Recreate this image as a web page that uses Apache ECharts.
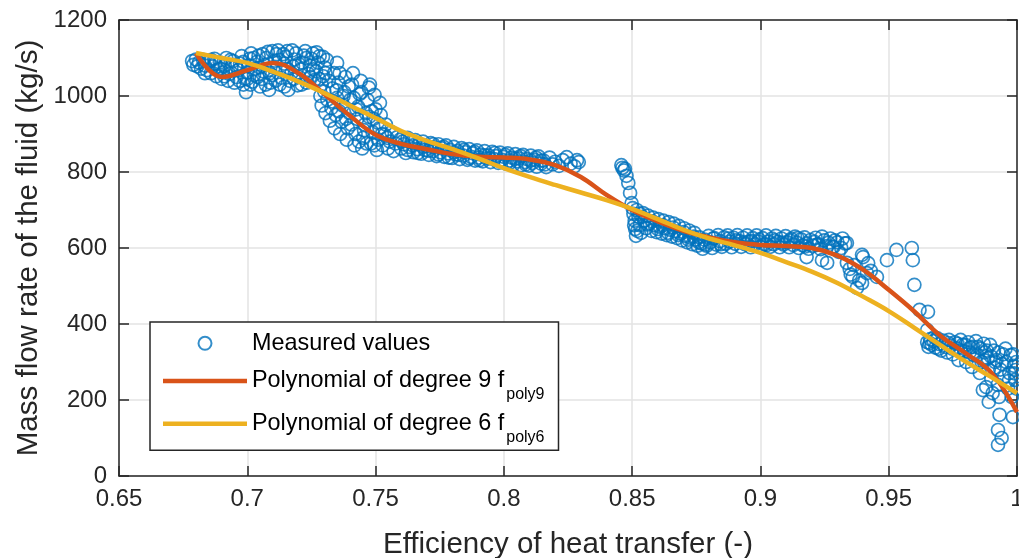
<!DOCTYPE html>
<html><head><meta charset="utf-8">
<script src="https://cdn.jsdelivr.net/npm/echarts@6/dist/echarts.min.js"></script>
<style>html,body{margin:0;padding:0;background:#fff}#c{width:1019px;height:558px}</style>
</head><body><div id="c"></div>
<script>
const FONT = "'Liberation Sans', Arial, Helvetica, sans-serif";
const xTickLabels = ['0.65','0.7','0.75','0.8','0.85','0.9','0.95','1'];
const yTickLabels = ['0','200','400','600','800','1000','1200'];
const seriesNames = ['Measured values','Polynomial of degree 9 f','Polynomial of degree 6 f'];
const subscripts = ['','poly9','poly6'];

const measured = [
// cluster near 0.68-0.73
[0.6785,1092],[0.6790,1082],[0.6800,1096],[0.6805,1078],[0.6812,1088],[0.6820,1072],[0.6828,1095],[0.6835,1080],[0.6842,1068],[0.6850,1090],
[0.6858,1060],[0.6865,1078],[0.6872,1098],[0.6880,1052],[0.6885,1070],[0.6893,1088],[0.6900,1045],[0.6905,1062],[0.6912,1080],[0.6918,1100],
[0.6925,1040],[0.6930,1058],[0.6938,1075],[0.6945,1092],[0.6950,1035],[0.6958,1050],[0.6965,1068],[0.6972,1085],[0.6978,1105],[0.6985,1030],
[0.6990,1046],[0.6995,1010],[0.7000,1062],[0.7005,1080],[0.7010,1098],[0.7015,1112],[0.7020,1038],[0.7026,1055],[0.7032,1072],[0.7038,1090],
[0.7044,1106],[0.7050,1025],[0.7056,1045],[0.7062,1065],[0.7068,1082],[0.7074,1100],[0.7080,1116],[0.7085,1016],[0.7090,1035],[0.7096,1055],
[0.7102,1075],[0.7108,1093],[0.7114,1110],[0.7120,1120],[0.7126,1030],[0.7132,1048],[0.7138,1068],[0.7144,1085],[0.7150,1103],[0.7156,1118],
[0.7160,1016],[0.7166,1040],[0.7172,1060],[0.7178,1078],[0.7184,1096],[0.7190,1112],[0.7196,1028],[0.7202,1050],[0.7208,1070],[0.7214,1088],
[0.7220,1106],[0.7226,1118],[0.7232,1035],[0.7238,1058],[0.7244,1080],[0.7250,1098],[0.7256,1112],[0.7262,1042],[0.7268,1065],[0.7275,1088],
[0.7282,1105],[0.7290,1030],[0.7296,1052],[0.7302,1075],[0.7310,1095],[0.7295,1103],[0.7350,1087],[0.7360,1060],
[0.6835,1060],[0.6860,1095],[0.6875,1085],[0.6895,1072],[0.6910,1052],[0.6935,1095],[0.6955,1080],[0.6970,1040],[0.6985,1090],[0.7000,1045],
[0.7012,1030],[0.7025,1100],[0.7040,1050],[0.7048,1075],[0.7060,1110],[0.7072,1030],[0.7088,1060],[0.7098,1118],[0.7110,1040],[0.7125,1095],
[0.7140,1110],[0.7145,1025],[0.7158,1070],[0.7175,1120],[0.7182,1045],[0.7200,1085],[0.7212,1030],[0.7230,1100],[0.7245,1050],[0.7258,1070],
[0.7270,1115],[0.7280,1045],[0.7305,1060],
// steep drop 0.73-0.76
[0.7285,1000],[0.7290,975],[0.7300,1012],[0.7305,955],[0.7312,990],[0.7318,1040],[0.7322,935],[0.7328,968],[0.7332,1020],[0.7338,1060],
[0.7340,915],[0.7345,950],[0.7350,995],[0.7355,1035],[0.7362,900],[0.7368,932],[0.7372,975],[0.7378,1010],[0.7382,1050],[0.7388,885],
[0.7392,915],[0.7398,955],[0.7402,990],[0.7408,1030],[0.7412,1060],[0.7418,870],[0.7422,900],[0.7428,940],[0.7432,972],[0.7438,1005],
[0.7442,1040],[0.7448,862],[0.7452,890],[0.7458,925],[0.7462,955],[0.7468,990],[0.7474,1022],[0.7478,1030],[0.7482,875],[0.7488,905],
[0.7492,940],[0.7496,1003],[0.7500,965],[0.7505,858],[0.7510,885],[0.7515,915],[0.7517,982],[0.7520,950],[0.7528,870],[0.7535,898],
[0.7540,925],[0.7548,862],[0.7555,880],[0.7562,905],[0.7570,855],[0.7578,875],[0.7585,892],
[0.7335,985],[0.7348,1015],[0.7358,960],[0.7375,1000],[0.7385,940],[0.7395,1025],[0.7405,925],[0.7415,995],[0.7425,965],[0.7435,880],
[0.7445,1010],[0.7455,910],[0.7465,875],[0.7475,945],[0.7485,960],[0.7495,870],[0.7508,930],[0.7525,900],[0.7545,890],
// band near 850
[0.7595,885],[0.7600,862],[0.7610,873],[0.7618,850],[0.7625,890],[0.7632,866],[0.7640,878],[0.7648,852],[0.7655,884],[0.7662,860],
[0.7670,872],[0.7678,848],[0.7685,880],[0.7692,858],[0.7700,868],[0.7708,845],[0.7715,876],[0.7722,855],[0.7730,865],[0.7738,842],
[0.7745,873],[0.7752,852],[0.7760,862],[0.7768,840],[0.7775,870],[0.7782,849],[0.7790,858],[0.7798,837],[0.7805,866],[0.7812,846],
[0.7820,855],[0.7828,834],[0.7835,863],[0.7842,843],[0.7850,852],[0.7858,832],[0.7865,860],[0.7872,840],[0.7880,849],[0.7888,830],
[0.7895,857],[0.7902,838],[0.7910,846],[0.7918,828],[0.7925,855],[0.7932,836],[0.7940,844],[0.7948,826],[0.7955,853],[0.7962,834],
[0.7970,842],[0.7978,824],[0.7985,851],[0.7992,832],[0.8000,840],[0.8008,822],[0.8015,849],[0.8022,830],[0.8030,838],[0.8038,820],
[0.8045,847],[0.8052,828],[0.8060,836],[0.8068,818],[0.8075,845],[0.8082,826],[0.8090,834],[0.8098,817],[0.8105,843],[0.8112,824],
[0.8120,832],[0.8128,814],[0.8135,841],[0.8145,822],[0.8155,830],[0.8165,813],[0.8178,838],[0.8190,820],[0.8200,827],[0.8215,816],
[0.8230,831],[0.8245,839],[0.8260,822],[0.8275,815],[0.8285,831],[0.8292,826],
[0.7605,880],[0.7625,858],[0.7645,870],[0.7665,850],[0.7685,866],[0.7705,856],[0.7725,873],[0.7745,846],[0.7765,866],[0.7785,838],
[0.7805,852],[0.7825,845],[0.7845,858],[0.7865,836],[0.7885,853],[0.7905,831],[0.7925,844],[0.7945,836],[0.7965,850],[0.7985,828],
[0.8005,845],[0.8025,825],[0.8045,835],[0.8065,842],[0.8085,820],[0.8105,830],[0.8125,838],[0.8145,830],[0.8160,820],
// vertical drop near 0.848
[0.8458,818],[0.8462,811],[0.8468,804],[0.8472,808],[0.8478,790],[0.8485,771],[0.8492,745],[0.8498,718],[0.8502,705],
// band 0.85-0.876
[0.8505,690],[0.8510,672],[0.8512,650],[0.8518,700],[0.8525,682],[0.8530,660],[0.8535,640],[0.8542,692],[0.8548,672],[0.8555,652],
[0.8562,685],[0.8568,665],[0.8575,645],[0.8582,680],[0.8588,660],[0.8595,642],[0.8602,676],[0.8608,656],[0.8615,638],[0.8622,672],
[0.8628,652],[0.8635,634],[0.8642,668],[0.8648,648],[0.8655,630],[0.8662,664],[0.8668,644],[0.8675,626],[0.8682,658],[0.8688,638],
[0.8695,620],[0.8702,652],[0.8708,632],[0.8715,615],[0.8722,646],[0.8728,627],[0.8735,610],[0.8742,640],[0.8748,622],[0.8755,606],
[0.8508,660],[0.8520,645],[0.8540,682],[0.8560,662],[0.8580,670],[0.8600,650],[0.8620,660],[0.8640,640],[0.8660,654],[0.8680,634],
[0.8700,642],[0.8720,622],[0.8740,630],[0.8760,615],[0.8515,632],[0.8530,690],
// band near 610
[0.8762,628],[0.8770,612],[0.8775,598],[0.8782,622],[0.8790,606],[0.8798,632],[0.8805,615],[0.8812,600],[0.8820,626],[0.8828,609],
[0.8835,634],[0.8842,618],[0.8850,603],[0.8858,628],[0.8865,611],[0.8872,633],[0.8880,617],[0.8888,602],[0.8895,627],[0.8902,611],
[0.8910,634],[0.8918,618],[0.8925,603],[0.8932,627],[0.8940,610],[0.8948,633],[0.8955,617],[0.8962,602],[0.8970,626],[0.8978,610],
[0.8985,633],[0.8992,617],[0.9000,603],[0.9008,626],[0.9015,610],[0.9022,633],[0.9030,617],[0.9038,603],[0.9045,625],[0.9052,610],
[0.9060,632],[0.9068,616],[0.9075,602],[0.9082,625],[0.9090,609],[0.9098,631],[0.9105,615],[0.9112,602],[0.9120,624],[0.9128,608],
[0.9135,630],[0.9142,614],[0.9150,600],[0.9158,623],[0.9165,607],[0.9172,628],[0.9180,612],[0.9188,598],[0.9195,621],[0.9205,606],
[0.9215,627],[0.9225,610],[0.9235,597],[0.9248,620],[0.9260,605],[0.9272,625],[0.9285,603],[0.9300,615],[0.9315,600],[0.9330,612],
[0.8785,610],[0.8815,625],[0.8845,610],[0.8875,625],[0.8905,620],[0.8935,615],[0.8965,618],[0.8995,622],[0.9025,608],[0.9055,620],
[0.9085,614],[0.9115,620],[0.9145,626],[0.9175,604],[0.9210,616],[0.9240,630],[0.9265,614],[0.9290,620],[0.9320,625],
// scattered 0.92-0.965
[0.9180,576],[0.9220,608],[0.9240,568],[0.9260,561],[0.9280,603],[0.9337,613],[0.9337,561],[0.9400,576],[0.9396,582],[0.9360,524],
[0.9396,508],[0.9376,495],[0.9415,534],[0.9454,524],[0.9493,568],[0.9530,595],[0.9590,600],[0.9594,568],[0.9600,503],[0.9620,437],
[0.9653,432],[0.9650,384],[0.9305,590],[0.9348,545],[0.9365,555],[0.9352,530],[0.9385,515],[0.9420,560],[0.9430,540],
// cluster 0.965-1.0
[0.9650,352],[0.9655,340],[0.9662,360],[0.9668,345],[0.9675,355],[0.9682,338],[0.9690,362],[0.9698,347],[0.9705,330],[0.9712,356],
[0.9720,340],[0.9728,325],[0.9735,358],[0.9742,343],[0.9750,320],[0.9758,352],[0.9765,336],[0.9772,305],[0.9780,358],[0.9788,345],
[0.9795,328],[0.9802,300],[0.9810,352],[0.9818,338],[0.9825,287],[0.9832,318],[0.9840,355],[0.9848,340],[0.9855,271],[0.9862,300],
[0.9870,348],[0.9875,325],[0.9880,234],[0.9886,310],[0.9890,280],[0.9895,345],[0.9900,255],[0.9905,218],[0.9910,330],[0.9915,300],
[0.9920,305],[0.9925,240],[0.9930,208],[0.9932,161],[0.9926,121],[0.9926,82],[0.9940,100],[0.9935,280],[0.9945,320],[0.9950,260],
[0.9958,300],[0.9965,230],[0.9970,271],[0.9975,318],[0.9980,208],[0.9984,155],[0.9988,290],[0.9992,253],[0.9995,279],[0.9998,230],
[0.9867,226],[0.9890,195],
[0.9660,350],[0.9678,365],[0.9695,335],[0.9715,345],[0.9732,350],[0.9748,335],[0.9768,348],[0.9782,330],[0.9798,345],[0.9815,325],
[0.9828,340],[0.9845,318],[0.9858,335],[0.9872,305],[0.9882,330],[0.9898,315],[0.9912,285],[0.9928,325],[0.9942,295],[0.9955,335],
[0.9968,250],[0.9985,320],[0.9990,270],[0.9997,300]
];

const fitX  = [0.68,0.69,0.70,0.71,0.72,0.73,0.74,0.75,0.76,0.77,0.78,0.79,0.80,0.81,0.82,0.83,0.84,0.85,0.86,0.87,0.88,0.89,0.90,0.91,0.92,0.93,0.94,0.95,0.96,0.97,0.98,0.99,1.00];
const poly9 = [1113,1050,1068,1087,1060,1005,948,898,874,860,847,840,838,833,818,787,740,700,670,645,628,615,608,605,600,580,543,490,433,370,323,272,168];
const poly6 = [1113,1100,1087,1064,1038,1008,975,942,908,882,860,836,810,787,766,746,726,703,676,648,625,607,587,563,538,508,472,434,390,345,301,260,218];

const chart = echarts.init(document.getElementById('c'), null, {renderer:'canvas'});
const axisCol = '#262626';
const gridCol = '#e3e3e3';

function xFmt(v){ const i = Math.round((v-0.65)/0.05); return xTickLabels[i] ?? ''; }
function yFmt(v){ const i = Math.round(v/200); return yTickLabels[i] ?? ''; }

const baseAxisLine = {show:true, onZero:false, lineStyle:{color:axisCol, width:1.5}};
const baseTick = {show:true, inside:true, length:10, lineStyle:{color:axisCol, width:1.5}};
const lineIcon = 'path://M0,0H84V4.5H0Z';

chart.setOption({
  animation:false,
  backgroundColor:'#fff',
  textStyle:{fontFamily:FONT},
  grid:{left:119, right:2, top:20, bottom:82, containLabel:false, outerBoundsMode:'none'},
  xAxis:[{
    type:'value', min:0.65, max:1, interval:0.05, position:'bottom',
    name:'Efficiency of heat transfer (-)', nameLocation:'middle', nameGap:54, nameMoveOverlap:false,
    nameTextStyle:{fontSize:29.5, color:axisCol, fontFamily:FONT},
    axisLine:baseAxisLine, axisTick:baseTick,
    axisLabel:{fontSize:24, color:axisCol, margin:11, fontFamily:FONT, formatter:xFmt, showMinLabel:true, showMaxLabel:true, hideOverlap:false},
    splitLine:{show:true, lineStyle:{color:gridCol, width:1.5}}
  },{
    type:'value', min:0.65, max:1, interval:0.05, position:'top',
    axisLine:baseAxisLine, axisTick:baseTick, axisLabel:{show:false}, splitLine:{show:false}
  }],
  yAxis:[{
    type:'value', min:0, max:1200, interval:200, position:'left',
    name:'Mass flow rate of the fluid (kg/s)', nameLocation:'middle', nameGap:75, nameRotate:90, nameMoveOverlap:false,
    nameTextStyle:{fontSize:29.5, color:axisCol, fontFamily:FONT},
    axisLine:baseAxisLine, axisTick:baseTick,
    axisLabel:{fontSize:24, color:axisCol, margin:12, fontFamily:FONT, formatter:yFmt, showMinLabel:true, showMaxLabel:true},
    splitLine:{show:true, lineStyle:{color:gridCol, width:1.5}}
  },{
    type:'value', min:0, max:1200, interval:200, position:'right',
    axisLine:baseAxisLine, axisTick:baseTick, axisLabel:{show:false}, splitLine:{show:false}
  }],
  legend:{
    show:true, orient:'vertical', left:150, top:322,
    padding:[4.8,14,4.8,13], itemGap:4.5, itemWidth:84, itemHeight:13,
    backgroundColor:'#fff', borderColor:axisCol, borderWidth:1.5, borderRadius:0,
    selectedMode:false,
    data:[{name:seriesNames[0]},{name:seriesNames[1], icon:lineIcon},{name:seriesNames[2], icon:lineIcon}],
    formatter:function(name){
      const i = seriesNames.indexOf(name);
      return subscripts[i] ? '{a|'+name+'}{sub|'+subscripts[i]+'}' : '{m|'+name+'}';
    },
    textStyle:{
      color:'#000', fontFamily:FONT, fontSize:23.4,
      rich:{
        m:{fontSize:23.4, lineHeight:26, padding:[5,0,5,0], verticalAlign:'middle', fontFamily:FONT, color:'#000'},
        a:{fontSize:23.4, lineHeight:26, verticalAlign:'middle', fontFamily:FONT, color:'#000'},
        sub:{fontSize:16, lineHeight:26, height:6.2, padding:[27.2,0,0,2], verticalAlign:'middle', fontFamily:FONT, color:'#000'}
      }
    }
  },
  series:[{
    name:seriesNames[0], type:'scatter', data:measured, symbol:'circle', symbolSize:13, clip:false,
    itemStyle:{color:'rgba(0,0,0,0)', borderColor:'#0072BD', borderWidth:1.7},
    emphasis:{disabled:true}
  },{
    name:seriesNames[1], type:'line', data:fitX.map((x,i)=>[x,poly9[i]]), symbol:'none', smooth:0.4,
    lineStyle:{color:'#D95319', width:4.5}, itemStyle:{color:'#D95319'}, emphasis:{disabled:true}
  },{
    name:seriesNames[2], type:'line', data:fitX.map((x,i)=>[x,poly6[i]]), symbol:'none', smooth:0.4,
    lineStyle:{color:'#EDB120', width:4.5}, itemStyle:{color:'#EDB120'}, emphasis:{disabled:true}
  }]
});
</script></body></html>
